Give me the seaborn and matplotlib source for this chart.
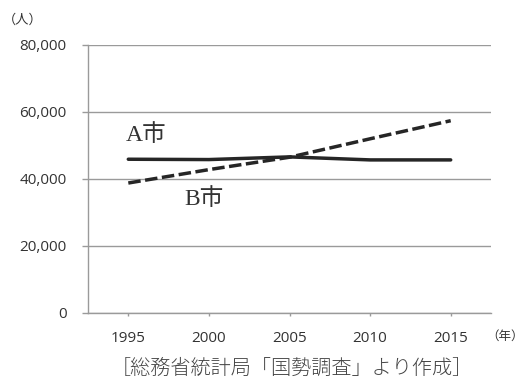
import matplotlib
matplotlib.use("Agg")
import matplotlib.pyplot as plt
import matplotlib.ticker as mticker
import seaborn as sns
import pandas as pd

years = [1995, 2000, 2005, 2010, 2015]
city_a = [45900, 45800, 46600, 45700, 45700]
city_b = [38800, 42800, 46500, 52000, 57400]
series_names = ["A市", "B市"]
y_ticks = [0, 20000, 40000, 60000, 80000]
x_label_unit = "（年）"
y_label_unit = "（人）"
caption = "［総務省統計局「国勢調査」より作成］"

df = pd.DataFrame({
    "year": years * 2,
    "pop": city_a + city_b,
    "city": [series_names[0]] * len(years) + [series_names[1]] * len(years),
})

sns.set_theme(style="white")
plt.rcParams["font.family"] = ["Open Sans", "Noto Sans CJK JP", "DejaVu Sans"]

fig = plt.figure(figsize=(5.25, 3.83), dpi=100)
ax = fig.add_axes([88 / 525, 1 - 313 / 383, (491 - 88) / 525, (313 - 45) / 383])

line_col = "#262626"
sns.lineplot(data=df, x="year", y="pop", hue="city", style="city",
             palette={series_names[0]: line_col, series_names[1]: line_col},
             dashes={series_names[0]: "", series_names[1]: (3.6, 1.3)},
             linewidth=2.5, legend=False, ax=ax)

ax.set_xlim(1992.5, 2017.5)
ax.set_ylim(0, 80000)
ax.set_xticks(years)
ax.set_yticks(y_ticks)
ax.yaxis.set_major_formatter(mticker.FuncFormatter(lambda v, p: f"{int(v):,}"))
ax.set_xlabel("")
ax.set_ylabel("")

grid_col = "#9a9a9a"
ax.grid(axis="y", color=grid_col, linewidth=1.0)
ax.set_axisbelow(True)
for s in ["top", "right"]:
    ax.spines[s].set_visible(False)
for s in ["left", "bottom"]:
    ax.spines[s].set_color(grid_col)
    ax.spines[s].set_linewidth(1.0)

ax.tick_params(axis="y", length=4, width=1.0, color=grid_col, pad=11.5,
               labelsize=11, labelcolor="#333333", direction="out", left=True)
ax.tick_params(axis="x", length=2.5, width=1.0, color=grid_col, pad=10.5,
               labelsize=11, labelcolor="#333333", direction="out", bottom=True)

ax.text(0.145, 0.664, series_names[0], transform=ax.transAxes, ha="center", va="center",
        fontsize=17, color="#333333", family=["Liberation Serif", "Noto Sans CJK JP"])
ax.text(0.289, 0.425, series_names[1], transform=ax.transAxes, ha="center", va="center",
        fontsize=17, color="#333333", family=["Liberation Serif", "Noto Sans CJK JP"])

fig.text(23 / 525, 1 - 20 / 383, y_label_unit, ha="center", va="center", fontsize=9.5,
         color="#333333", family=["Noto Sans CJK JP", "DejaVu Sans"])
fig.text(505 / 525, 1 - 336 / 383, x_label_unit, ha="center", va="center", fontsize=9,
         color="#333333", family=["Noto Sans CJK JP", "DejaVu Sans"])
fig.text(291.5 / 525, 1 - 368 / 383, caption, ha="center", va="center", fontsize=14.5,
         color="#444444", fontweight="light", family=["Noto Sans CJK JP", "DejaVu Sans"])

fig.savefig("out.png", dpi=100)
